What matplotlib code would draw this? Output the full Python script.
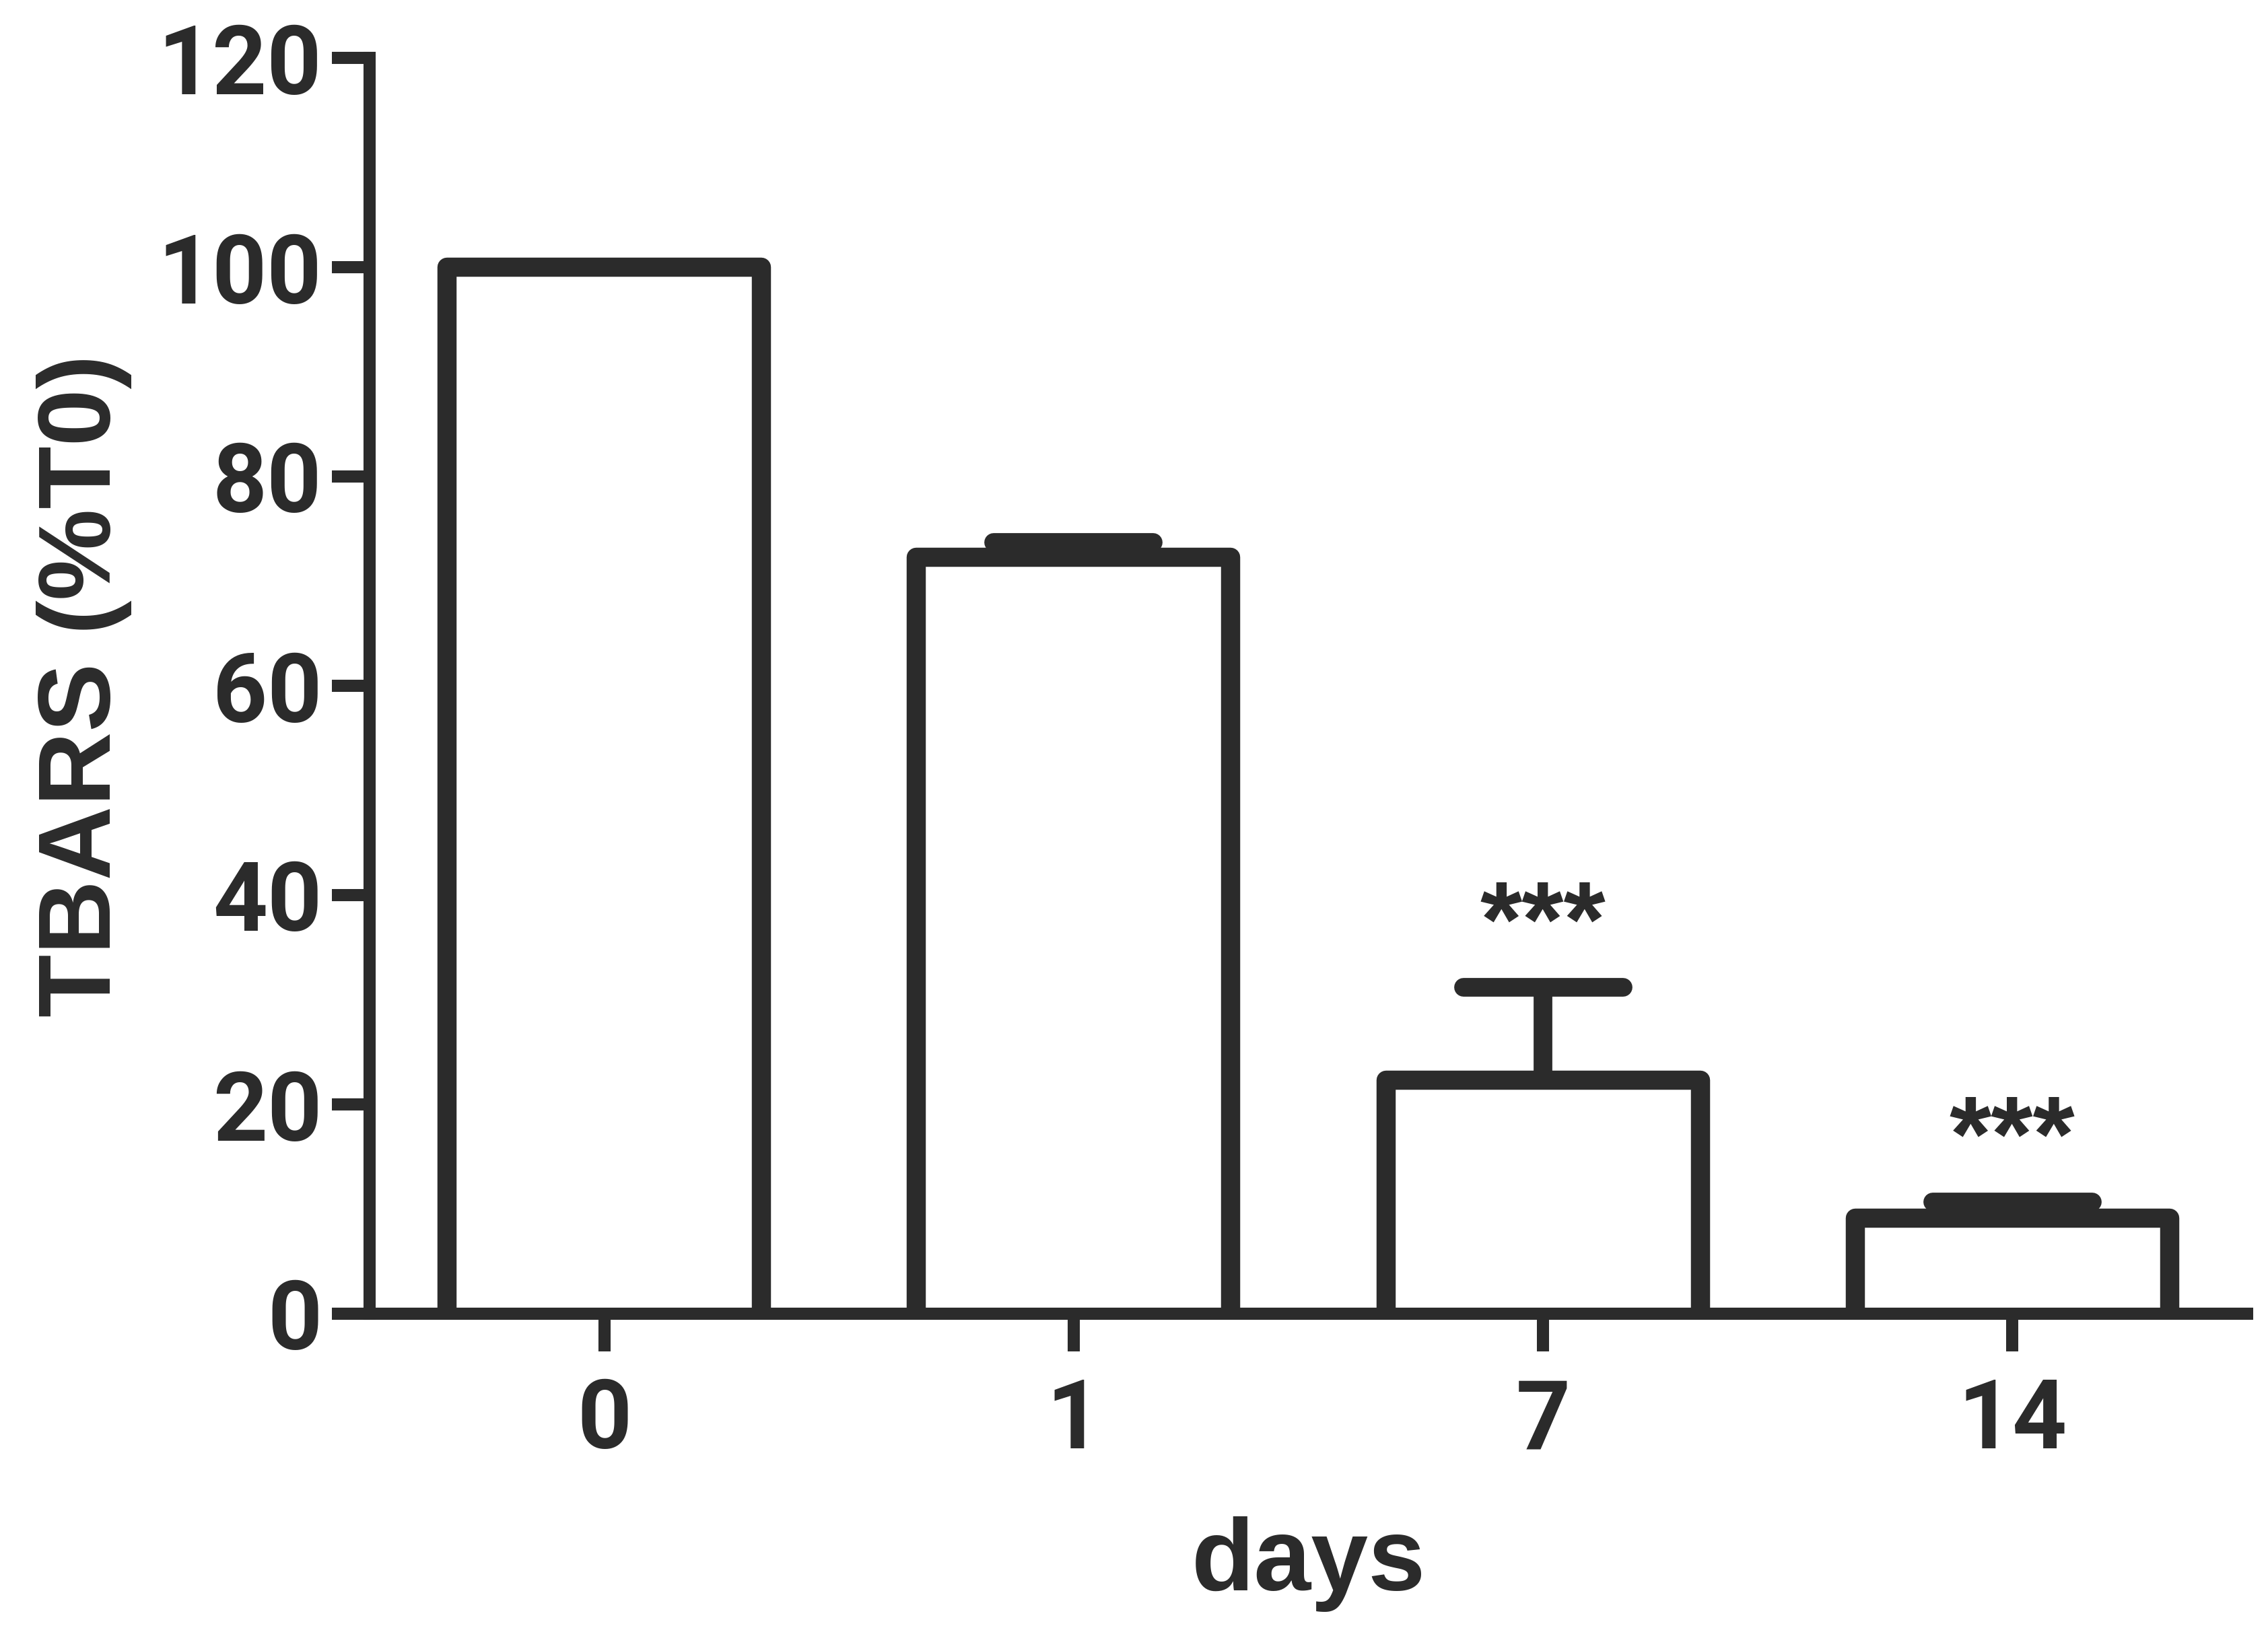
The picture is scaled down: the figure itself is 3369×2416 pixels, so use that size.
import matplotlib
matplotlib.use('Agg')
import matplotlib.pyplot as plt
import numpy as np

# Chart values
days = ['0', '1', '7', '14']
tbars_mean = [100.0, 72.3, 22.3, 9.1]
tbars_sem = [0.0, 1.4, 8.9, 1.6]
significance = ['', '', '***', '***']
y_ticks = [0, 20, 40, 60, 80, 100, 120]

DARK = '#2b2b2b'
BAR_BASE = -1.5  # bars start just under the axis so their bottom edge hides behind it

plt.rcParams['font.family'] = 'Liberation Sans'
plt.rcParams['font.weight'] = 'bold'


def plot_tbars():
    fig = plt.figure(figsize=(33.69, 24.16), dpi=100)
    ax = fig.add_axes([549 / 3369, 1 - 1952 / 2416, (3338 - 549) / 3369, (1952 - 86) / 2416])

    x = np.arange(len(days))
    means = np.array(tbars_mean)
    sems = np.array(tbars_sem)

    # White bars with thick dark outline
    bars = ax.bar(x, means - BAR_BASE, bottom=BAR_BASE, width=0.67, color='white',
                  edgecolor=DARK, linewidth=20.5, zorder=1)
    for b in bars:
        b.set_joinstyle('round')

    # Upper-only error bars (SEM), skip the zero one
    has_err = sems > 0
    xe, me, se = x[has_err], means[has_err], sems[has_err]
    ax.errorbar(xe, me, yerr=[np.zeros_like(se), se], fmt='none', ecolor=DARK,
                elinewidth=20, capsize=0, zorder=2)
    ax.hlines(me + se, xe - 0.17, xe + 0.17, colors=DARK, linewidth=20,
              capstyle='round', zorder=3)

    # Significance stars above the error bars
    for i in range(len(days)):
        if significance[i]:
            ax.annotate(significance[i], xy=(x[i], means[i] + sems[i]),
                        xytext=(0, 33), textcoords='offset points',
                        ha='center', va='baseline', fontsize=115,
                        fontweight='bold', color=DARK)

    # Axes styling (Roboto digits: Liberation's "1" has a foot, Arial's doesn't)
    ax.set_xlim(-0.5, 3.5)
    ax.set_ylim(0, 120)
    ax.set_xticks(x, labels=days, fontfamily='Roboto', fontweight='bold')
    ax.set_yticks(y_ticks, labels=[str(v) for v in y_ticks],
                  fontfamily='Roboto', fontweight='bold')
    for side in ['top', 'right']:
        ax.spines[side].set_visible(False)
    for side in ['left', 'bottom']:
        ax.spines[side].set_linewidth(13)
        ax.spines[side].set_color(DARK)
        ax.spines[side].set_zorder(4)

    ax.tick_params(axis='both', length=40, width=13, color=DARK,
                   labelsize=102, labelcolor=DARK)
    ax.tick_params(axis='x', pad=27)
    ax.tick_params(axis='y', pad=11)

    ax.set_xlabel('days', fontsize=110, fontweight='bold', color=DARK)
    ax.xaxis.label.set_va('baseline')
    ax.xaxis.set_label_coords(0.5, -0.2203)

    ax.set_ylabel('TBARS (%T0)', fontsize=110, fontweight='bold', color=DARK)
    ax.yaxis.label.set_va('baseline')
    ax.yaxis.set_label_coords(-0.138, 0.5)

    fig.savefig('out.png', dpi=100, facecolor='white')
    plt.close(fig)


if __name__ == '__main__':
    plot_tbars()
